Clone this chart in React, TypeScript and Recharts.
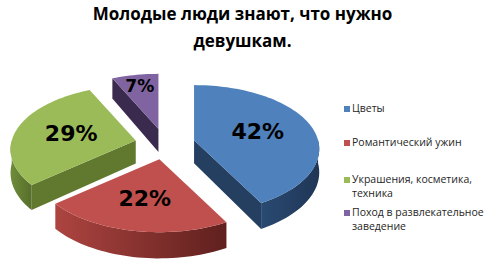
import React from 'react';
import { PieChart, Pie, Legend } from 'recharts';

const categories = [
  'Цветы',
  'Романтический ужин',
  'Украшения, косметика, техника',
  'Поход в развлекательное заведение',
];
const shares = [42, 22, 29, 7];
const colors = ['#4F81BD', '#C0504D', '#9BBB59', '#8064A2'];
const wallColors = [
  ['#2a4a72', '#1f3656'],
  ['#ad4440', '#5f201e'],
  ['#6f8c3a', '#566f2a'],
  ['#43335a', '#332644'],
];
const cutColors = ['#253f61', '#7a2c2a', '#61792f', '#3a2b4e'];

const data = categories.map((name, i) => ({ name, value: shares[i], fill: colors[i] }));

const TILT = 64 / 124;
const DEPTH = 23;
const PERSP = 0.14;
const EXPLODE = 30;
const LEGEND_TOPS = [2, 36, 73, 106];

const rad = (d: number) => (d * Math.PI) / 180;

const renderSlice = (props: any) => {
  const { cx, cy, outerRadius, startAngle, endAngle, percent, payload } = props;
  const idx = Math.max(0, categories.indexOf(payload?.name ?? props.name));
  const rx = outerRadius;
  const ry = outerRadius * TILT;
  const lo = Math.min(startAngle, endAngle);
  const hi = Math.max(startAngle, endAngle);
  const mid = (lo + hi) / 2;
  const ox = EXPLODE * Math.cos(rad(mid));
  const oy = -EXPLODE * Math.sin(rad(mid)) * TILT;
  const sc = (t: number) => 1 - PERSP * Math.sin(rad(t));
  const pt = (t: number, h: number, f = 1) => [
    cx + ox + rx * f * Math.cos(rad(t)) * sc(t),
    cy + oy - ry * f * Math.sin(rad(t)) * sc(t) + h * DEPTH * sc(t),
  ];
  const arc = (a: number, b: number, h: number) => {
    const n = Math.max(2, Math.ceil(Math.abs(b - a) / 2));
    const out: number[][] = [];
    for (let k = 0; k <= n; k++) out.push(pt(a + ((b - a) * k) / n, h));
    return out;
  };
  const toPath = (pts: number[][]) =>
    pts.map((p, i) => `${i ? 'L' : 'M'}${p[0].toFixed(2)},${p[1].toFixed(2)}`).join(' ') + ' Z';

  const apexTop = [cx + ox, cy + oy];
  const apexBot = [cx + ox, cy + oy + DEPTH];

  // outer wall only where the rim faces the viewer
  const walls: string[] = [];
  for (let k = -2; k <= 2; k++) {
    const a = Math.max(lo, -180 + 360 * k);
    const b = Math.min(hi, 360 * k);
    if (b - a > 0.1) walls.push(toPath([...arc(a, b, 0), ...arc(b, a, 1)]));
  }
  const cuts: string[] = [];
  if (Math.cos(rad(lo)) > 0.01) cuts.push(toPath([apexTop, pt(lo, 0), pt(lo, 1), apexBot]));
  if (Math.cos(rad(hi)) < -0.01) cuts.push(toPath([apexTop, pt(hi, 0), pt(hi, 1), apexBot]));

  const top = toPath([apexTop, ...arc(hi, lo, 0)]);
  const small = percent < 0.1;
  const lp = pt(mid, 0, small ? 0.8 : 0.55);
  const gid = `wall-${idx}`;

  return (
    <g>
      <defs>
        <linearGradient id={gid} x1="0" y1="0" x2="1" y2="0">
          <stop offset="0%" stopColor={wallColors[idx][0]} />
          <stop offset="100%" stopColor={wallColors[idx][1]} />
        </linearGradient>
      </defs>
      {cuts.map((d, i) => (
        <path key={`c${i}`} d={d} fill={cutColors[idx]} />
      ))}
      {walls.map((d, i) => (
        <path key={`w${i}`} d={d} fill={`url(#${gid})`} />
      ))}
      <path d={top} fill={colors[idx]} />
      <text
        x={lp[0]}
        y={lp[1]}
        textAnchor="middle"
        dominantBaseline="central"
        fontFamily="DejaVu Sans"
        fontWeight="bold"
        fontSize={small ? 17 : 22}
        fill="#000"
      >
        {`${Math.round(percent * 100)}%`}
      </text>
    </g>
  );
};

const renderLegend = (props: any) => {
  const payload = [...(props.payload || [])].sort(
    (a: any, b: any) => categories.indexOf(a.value) - categories.indexOf(b.value),
  );
  return (
    <div style={{ position: 'relative', width: 142, height: 140, fontFamily: 'Open Sans', fontSize: 10.5, color: '#262626' }}>
      {payload.map((entry: any, i: number) => (
        <div
          key={entry.value}
          style={{ position: 'absolute', left: 9, top: LEGEND_TOPS[i], width: 134, lineHeight: '13.5px' }}
        >
          <span style={{ position: 'absolute', left: -8, top: 4, width: 6, height: 6, background: entry.color }} />
          {entry.value}
        </div>
      ))}
    </div>
  );
};

export default function App() {
  return (
    <div style={{ position: 'absolute', left: 0, top: 0, width: 485, height: 271, background: '#fff', overflow: 'hidden' }}>
      <div
        style={{
          position: 'absolute',
          left: 0,
          top: 0,
          width: 485,
          textAlign: 'center',
          fontFamily: 'Open Sans',
          fontWeight: 700,
          fontSize: 17,
          lineHeight: '27px',
          color: '#000',
        }}
      >
        Молодые люди знают, что нужно
        <br />
        девушкам.
      </div>
      <PieChart width={485} height={271} margin={{ top: 0, right: 0, bottom: 0, left: 0 }}>
        <Pie
          data={data}
          dataKey="value"
          nameKey="name"
          cx={165}
          cy={144}
          outerRadius={124}
          startAngle={90}
          endAngle={-270}
          stroke="none"
          isAnimationActive={false}
          shape={renderSlice}
          activeShape={renderSlice}
          inactiveShape={renderSlice}
        />
        <Legend
          layout="vertical"
          align="right"
          verticalAlign="middle"
          content={renderLegend}
          wrapperStyle={{ left: 343, top: 100, right: 'auto', bottom: 'auto' }}
        />
      </PieChart>
    </div>
  );
}
